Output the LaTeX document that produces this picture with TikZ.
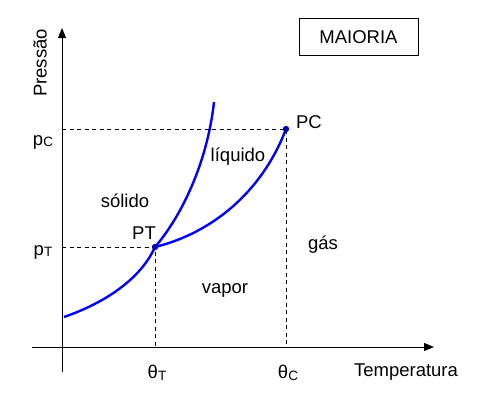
\documentclass[tikz,border=0pt]{standalone}
\usepackage{fontspec}
\setmainfont{Liberation Sans}
\usetikzlibrary{arrows.meta}
\tikzset{
  lbl/.style={font=\fontsize{18.5}{20}\selectfont, inner sep=0pt},
  axis/.style={line width=1pt, -{Triangle[length=10pt,width=8pt]}},
  guide/.style={line width=0.9pt, dash pattern=on 4pt off 3.5pt},
  phase/.style={line width=2.4pt, blue},
  pt/.style={circle, fill=blue!70!black, inner sep=0pt, minimum size=6pt},
}
\newcommand{\sub}[1]{\raisebox{-0.1em}{\fontsize{13.5}{14}\selectfont #1}}
\begin{document}
\begin{tikzpicture}[x=1pt,y=-1pt]
\useasboundingbox (0,0) rectangle (482,397);
% axes
\coordinate (yb) at (62,372);
\coordinate (yt) at (62,28);
\coordinate (xl) at (32,347);
\coordinate (xr) at (434,347);
\draw[axis] (yb) -- (yt);
\draw[axis] (xl) -- (xr);
% key points
\node[pt] (PT) at (155,247) {};
\node[pt] (PC) at (286,129) {};
\coordinate (pTa) at (62,247);
\coordinate (pCa) at (62,129);
\coordinate (tTa) at (155,347);
\coordinate (tCa) at (286,347);
\draw[guide] (pTa) -- (PT.center) -- (tTa);
\draw[guide] (pCa) -- (PC.center) -- (tCa);
% curves
\coordinate (s0) at (64,317);
\coordinate (s1) at (214,102);
\draw[phase] (s0) .. controls (110,301) and (142,276) .. (PT.center)
  .. controls (180,218) and (207,165) .. (s1);
\draw[phase] (PT.center) .. controls (212,233) and (262,192) .. (PC.center);
\node[pt] at (PT) {};
\node[pt] at (PC) {};
% labels
\node[lbl, rotate=90] (press) at (40,63) {Pressão};
\node[lbl] (temp) at (406,372) {Temperatura};
\node[lbl] (pc) at (43,142) {p\sub{C}};
\node[lbl] (ptl) at (43,252) {p\sub{T}};
\node[lbl] (thT) at (157,373) {θ\sub{T}};
\node[lbl] (thC) at (288,373) {θ\sub{C}};
\node[lbl] (PTl) at (144,233) {PT};
\node[lbl] (PCl) at (309,122) {PC};
\node[lbl] (sol) at (125,201) {sólido};
\node[lbl] (liq) at (238,157) {líquido};
\node[lbl] (gas) at (323,245) {gás};
\node[lbl] (vap) at (225,290) {vapor};
\node[lbl, draw, line width=1pt, minimum width=119pt, minimum height=37pt] (maj) at (358.5,37) {MAIORIA};
\end{tikzpicture}
\end{document}
